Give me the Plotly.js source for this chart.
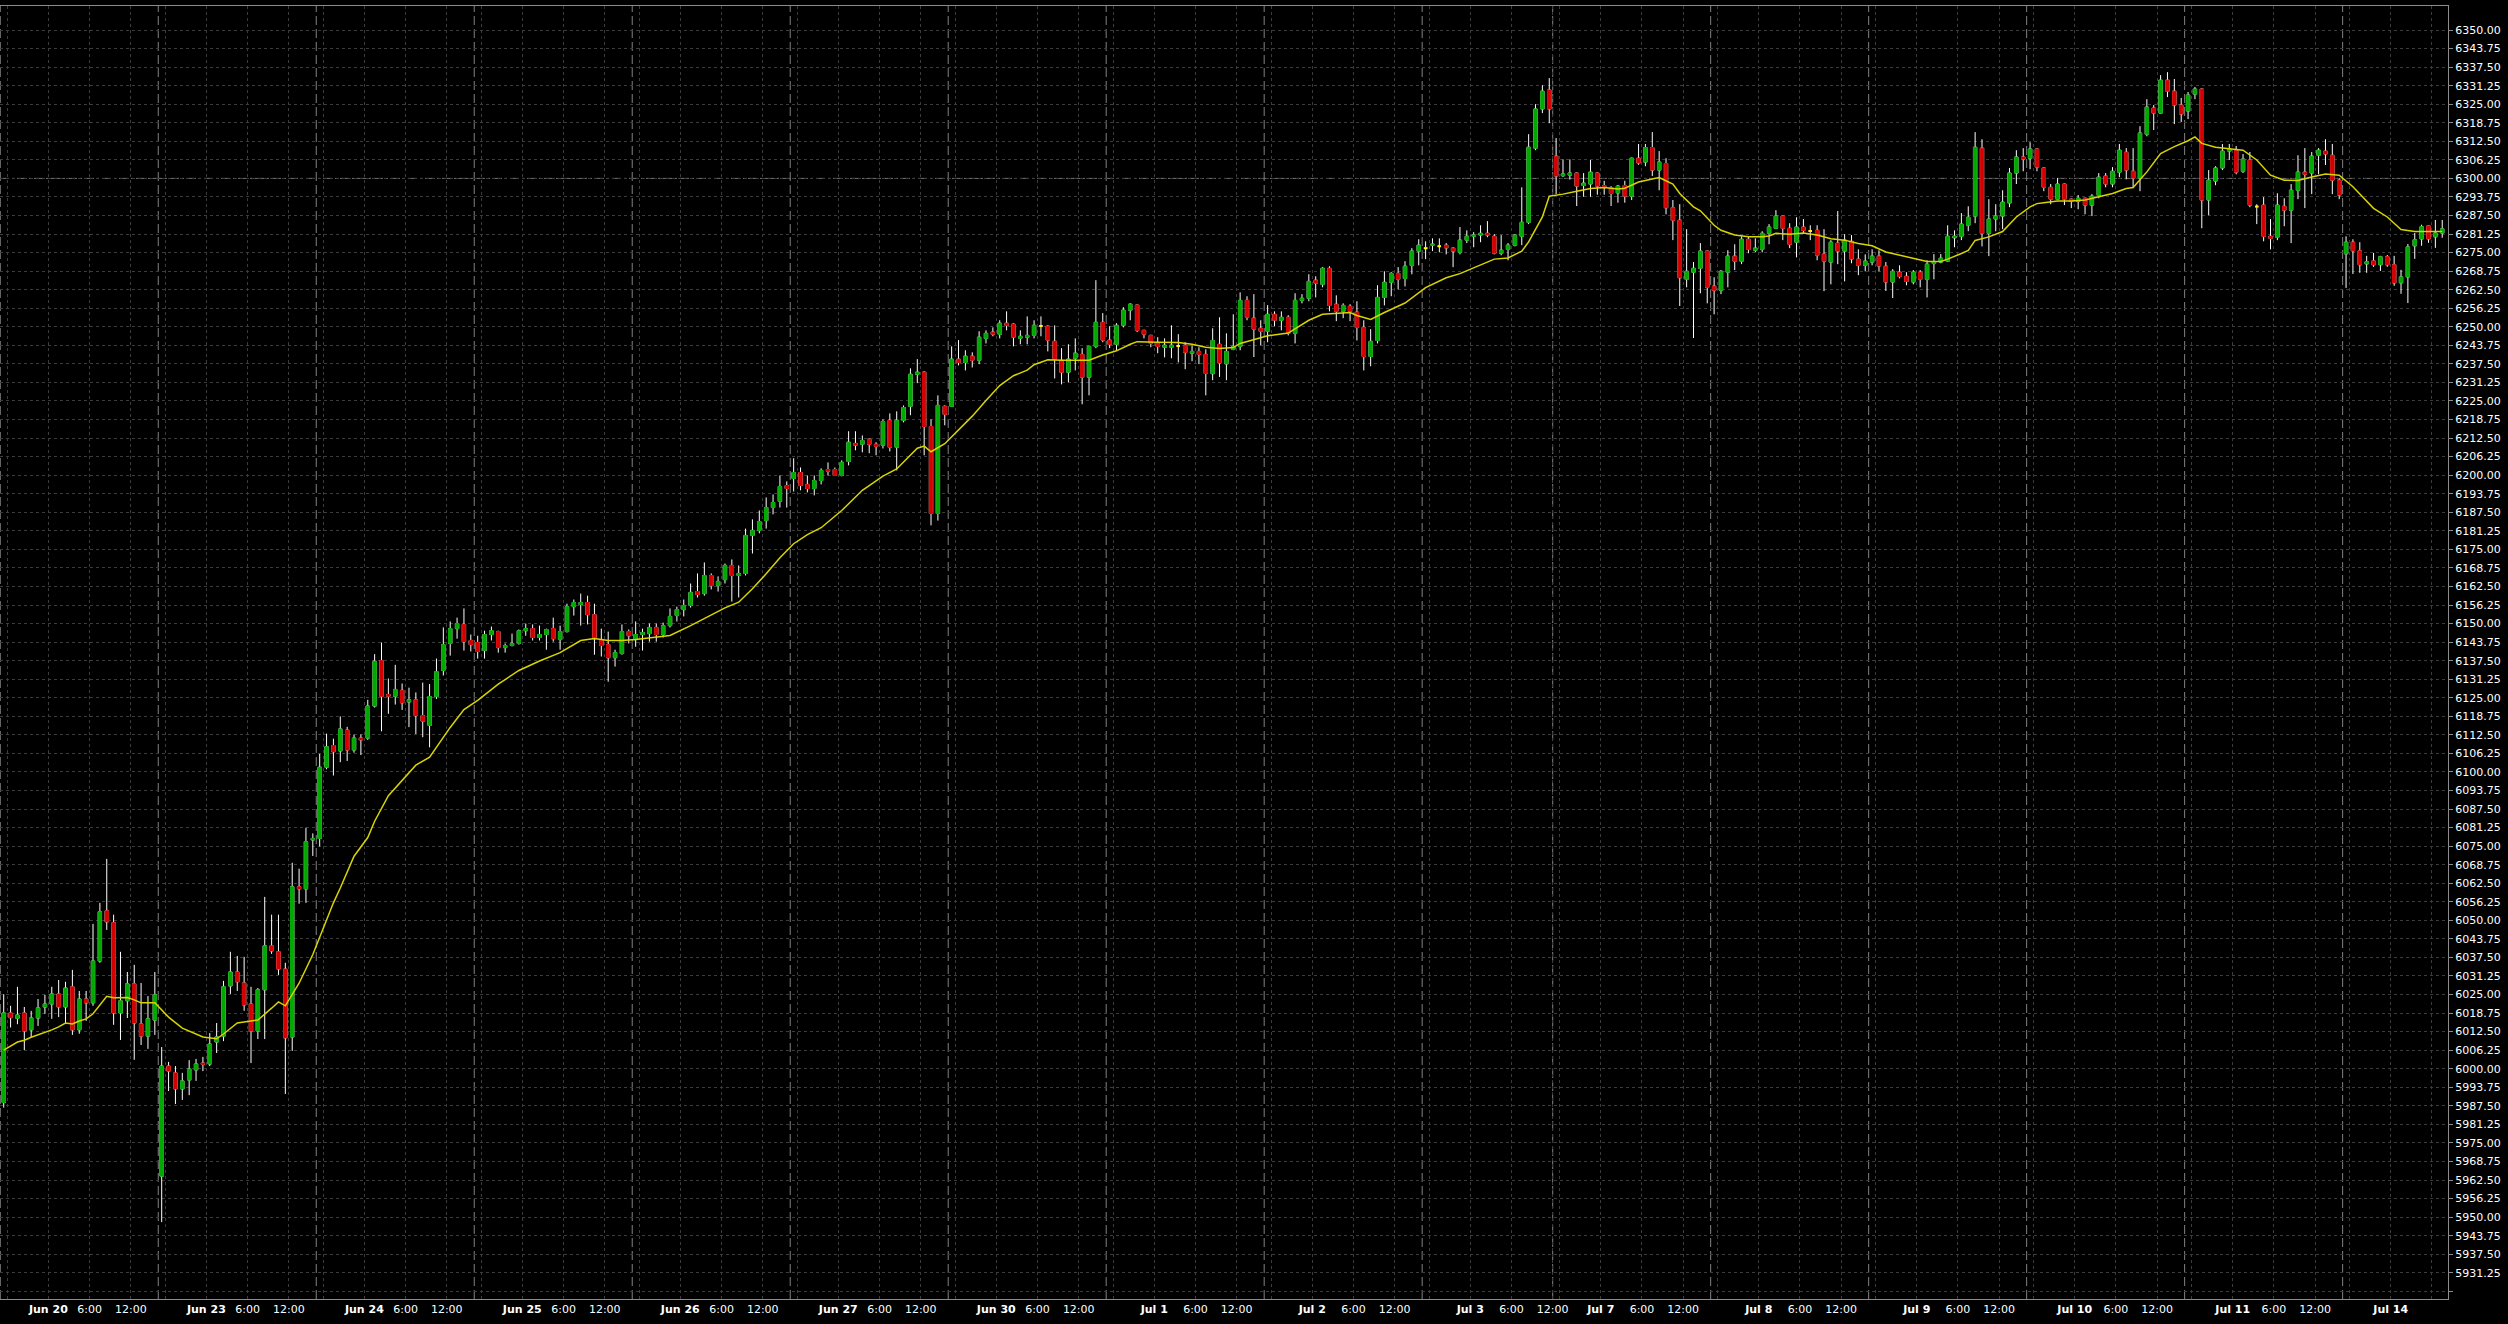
<!DOCTYPE html>
<html><head><meta charset="utf-8">
<script src="https://cdn.plot.ly/plotly-3.0.1.min.js"></script>
<style>html,body{margin:0;padding:0;background:#000;}#chart{width:2508px;height:1324px;}</style>
</head><body><div id="chart"></div>
<script>
// ---- sessions (hourly bars, first bar of each session = 17:00 of previous day) ----
const sessionLabels = ["Jun 20","Jun 23","Jun 24","Jun 25","Jun 26","Jun 27","Jun 30","Jul 1","Jul 2","Jul 3","Jul 7","Jul 8","Jul 9","Jul 10","Jul 11","Jul 14"];
const sessionBars   = [23,23,23,23,23,23,23,23,23,19,23,23,23,23,23,15];

// ---- OHLC values, one row per session ----
const open = [
5988.6,6018.8,6017.0,6018.8,6013.1,6017.1,6020.8,6021.8,6025.2,6020.8,6027.6,6013.1,6023.5,6022.2,6036.3,6053.2,6049.2,6018.8,6022.9,6028.6,6015.1,6011.0,6016.4,
5963.8,6000.9,5998.6,5993.2,5996.2,5999.6,6001.9,6001.6,6009.0,6011.0,6027.9,6032.6,6028.9,6021.8,6012.7,6026.6,6041.4,6039.4,6033.6,6010.7,6061.3,6060.6,6077.1,
6077.6,6101.6,6108.9,6107.1,6114.1,6107.4,6111.4,6111.4,6122.2,6137.5,6126.1,6125.5,6127.5,6123.6,6124.3,6119.0,6115.7,6125.4,6134.2,6143.3,6148.3,6149.7,6144.3,
6143.6,6140.9,6146.3,6147.3,6141.9,6142.6,6143.3,6147.6,6148.3,6145.3,6146.3,6148.3,6144.6,6147.3,6155.7,6156.4,6157.1,6153.0,6144.6,6142.9,6138.5,6139.9,6147.3,
6144.6,6146.3,6146.6,6148.7,6146.3,6149.3,6152.7,6154.7,6156.1,6160.8,6160.1,6166.2,6162.8,6164.8,6169.6,6166.2,6166.9,6179.7,6181.4,6184.7,6189.1,6191.2,6196.5,
6198.9,6200.9,6196.9,6195.5,6198.2,6201.9,6201.9,6199.9,6204.6,6210.7,6210.4,6212.1,6210.4,6210.1,6218.5,6209.4,6218.5,6223.2,6234.0,6234.7,6216.4,6187.1,6223.2,
6223.2,6239.1,6238.0,6240.1,6238.7,6246.1,6248.2,6247.5,6251.2,6250.9,6246.1,6246.5,6247.1,6250.25,6250.2,6245.1,6238.7,6234.7,6239.4,6240.7,6233.0,6243.4,6251.5,
6245.5,6244.1,6250.5,6255.6,6257.3,6248.8,6247.1,6244.4,6243.1,6243.1,6243.5,6243.8,6241.1,6241.7,6240.7,6234.2,6244.1,6237.5,6242.4,6243.4,6258.9,6252.9,6249.5,
6248.5,6254.2,6252.2,6253.2,6247.8,6258.9,6259.6,6265.7,6264.3,6269.7,6257.6,6255.2,6256.9,6254.9,6249.8,6240.0,6245.4,6259.9,6265.0,6268.0,6266.3,6270.7,6275.5,
6276.5,6277.5,6277.1,6277.5,6276.5,6275.1,6279.2,6280.5,6280.9,6281.5,6280.5,6274.8,6276.1,6277.5,6280.5,6285.2,6310.2,6323.4,6329.8,
6307.5,6300.9,6301.1,6301.8,6297.6,6298.1,6301.8,6297.6,6296.9,6295.1,6297.6,6294.0,6306.8,6305.5,6310.4,6302.8,6305.0,6290.1,6285.9,6266.0,6268.4,6269.7,6275.5,
6263.7,6262.3,6268.4,6273.8,6272.1,6279.5,6275.8,6276.1,6281.5,6283.2,6287.3,6283.2,6278.5,6283.6,6282.3,6282.5,6274.5,6271.8,6278.2,6275.5,6278.8,6272.8,6270.7,
6271.8,6273.8,6270.4,6265.1,6268.4,6267.0,6265.1,6268.4,6266.0,6271.3,6271.8,6272.1,6280.0,6280.5,6284.2,6287.3,6310.2,6281.5,6286.3,6287.3,6291.7,6301.8,6307.2,
6306.8,6309.9,6303.5,6297.0,6293.0,6298.1,6293.0,6292.3,6293.3,6291.0,6294.3,6300.8,6298.1,6302.1,6308.8,6302.4,6300.1,6314.9,6323.7,6322.0,6333.1,6329.4,6324.7,
6322.7,6328.4,6330.1,6292.7,6299.1,6303.5,6309.2,6309.5,6302.4,6306.2,6290.5,6291.0,6280.5,6280.2,6290.6,6289.3,6296.0,6302.1,6301.8,6307.8,6309.2,6307.8,6299.4,
6274.6,6278.5,6275.6,6271.2,6272.2,6270.9,6273.6,6270.9,6264.8,6266.8,6277.3,6279.6,6284.0,6280.3,6281.6
];
const high = [
6025.1,6021.2,6027.6,6020.8,6019.5,6023.5,6024.9,6027.6,6029.9,6029.3,6033.3,6026.2,6026.2,6048.8,6055.9,6070.7,6051.9,6039.4,6032.6,6035.0,6028.9,6024.5,6032.6,
6007.3,6002.3,6000.9,5998.6,6002.9,6003.3,6004.0,6012.0,6015.4,6029.6,6039.4,6038.0,6037.7,6027.6,6027.2,6057.9,6051.9,6051.9,6035.7,6069.4,6067.4,6081.2,6079.3,
6106.1,6112.9,6111.2,6118.7,6115.2,6112.6,6112.6,6124.3,6139.7,6143.6,6131.5,6136.1,6129.8,6128.4,6126.8,6130.1,6129.6,6138.2,6148.7,6150.7,6152.0,6155.1,6146.3,
6145.9,6147.6,6149.0,6147.6,6143.3,6146.6,6148.0,6150.0,6149.7,6149.3,6148.3,6152.0,6149.3,6156.7,6158.1,6160.1,6159.4,6156.7,6148.3,6147.3,6141.2,6149.7,6148.0,
6150.7,6148.3,6150.0,6150.0,6150.3,6155.1,6155.7,6158.1,6163.5,6166.9,6170.6,6166.9,6165.9,6170.2,6171.6,6169.6,6182.0,6185.1,6188.1,6192.5,6193.5,6199.9,6197.9,
6205.7,6202.6,6199.9,6199.9,6202.3,6204.3,6202.6,6205.0,6214.8,6214.8,6213.4,6212.4,6211.1,6218.8,6220.8,6221.5,6223.5,6236.0,6239.1,6235.0,6218.8,6226.9,6223.5,
6243.4,6245.5,6242.1,6241.4,6248.5,6248.8,6249.8,6252.2,6255.2,6251.2,6248.8,6253.5,6252.2,6253.5,6250.5,6250.5,6242.8,6244.1,6246.1,6242.8,6243.6,6265.7,6254.6,
6250.2,6251.2,6256.6,6257.9,6257.5,6249.0,6247.3,6246.5,6246.1,6250.5,6247.5,6244.8,6243.8,6243.1,6242.4,6249.5,6253.2,6247.8,6254.2,6261.6,6260.3,6261.0,6252.2,
6257.3,6255.2,6255.2,6253.9,6261.3,6261.0,6267.7,6267.0,6270.1,6270.4,6260.6,6257.9,6257.6,6258.6,6252.2,6249.2,6264.0,6268.7,6268.4,6270.1,6272.1,6276.5,6279.5,
6278.8,6279.8,6279.8,6278.2,6276.8,6283.6,6282.5,6281.9,6284.2,6285.6,6281.2,6280.9,6278.2,6281.2,6297.0,6314.9,6325.0,6331.4,6333.8,
6313.6,6306.4,6306.4,6302.0,6301.8,6306.2,6302.0,6299.2,6297.4,6297.8,6299.2,6307.0,6311.6,6311.6,6315.6,6309.2,6306.8,6292.7,6291.3,6282.9,6271.8,6278.2,6275.7,
6266.7,6269.1,6275.8,6277.8,6280.5,6280.5,6279.8,6282.2,6284.6,6289.3,6287.5,6284.9,6286.9,6286.3,6284.2,6284.2,6282.9,6279.2,6289.0,6281.2,6280.9,6276.1,6274.4,
6276.1,6275.8,6271.8,6269.4,6270.7,6268.4,6269.1,6269.1,6272.4,6274.5,6274.5,6284.2,6282.5,6288.3,6290.6,6315.6,6313.2,6293.0,6291.3,6296.0,6303.5,6309.5,6310.2,
6312.2,6310.1,6303.8,6298.1,6300.1,6298.3,6293.2,6294.4,6293.5,6294.7,6301.8,6301.8,6303.8,6311.6,6310.2,6310.2,6317.6,6326.7,6324.7,6334.8,6335.8,6333.5,6327.1,
6329.1,6330.8,6330.3,6302.8,6304.1,6311.6,6311.6,6310.9,6308.2,6308.9,6291.3,6293.7,6286.3,6295.0,6293.3,6298.1,6307.8,6310.2,6308.9,6310.2,6313.2,6311.6,6300.1,
6280.5,6279.5,6278.5,6273.9,6274.9,6273.9,6274.2,6273.9,6269.2,6277.9,6281.6,6284.4,6284.2,6286.0,6286.0
];
const low = [
5986.9,6013.9,6015.0,6006.3,6010.7,6014.4,6018.5,6016.8,6017.4,6015.4,6011.4,6011.8,6016.1,6021.2,6035.7,6046.8,6014.8,6009.7,6017.1,6003.0,6008.0,6006.7,6011.4,
5948.3,5992.5,5988.1,5989.5,5991.1,5995.9,5999.2,6000.9,6005.3,6009.3,6025.2,6026.2,6019.5,6001.9,6010.0,6010.0,6038.7,6031.6,5991.5,6006.0,6055.6,6055.9,6071.7,
6074.9,6100.9,6098.8,6103.3,6103.7,6106.5,6105.7,6110.8,6121.7,6113.7,6119.6,6122.7,6120.9,6115.1,6112.8,6111.7,6108.3,6124.6,6132.5,6139.2,6144.9,6140.9,6140.6,
6138.2,6138.2,6144.3,6140.2,6140.2,6142.3,6142.9,6145.9,6144.3,6144.3,6141.2,6143.9,6141.2,6147.0,6152.7,6149.3,6149.7,6139.5,6138.9,6130.4,6135.5,6139.5,6143.3,
6142.2,6140.9,6143.9,6143.9,6145.3,6148.7,6150.7,6152.4,6155.4,6158.8,6159.4,6161.5,6160.8,6163.5,6157.4,6158.8,6166.2,6173.6,6180.4,6182.0,6186.8,6189.1,6189.1,
6194.5,6194.9,6194.2,6193.2,6196.9,6199.9,6199.9,6199.6,6203.3,6208.4,6207.7,6207.4,6206.7,6209.0,6208.0,6201.6,6217.8,6220.2,6231.0,6206.7,6183.1,6184.7,6216.8,
6223.0,6237.0,6235.3,6236.3,6237.4,6244.4,6246.8,6246.1,6248.8,6243.4,6244.1,6244.1,6246.1,6246.8,6241.7,6232.6,6230.6,6231.3,6235.3,6223.9,6226.9,6242.8,6244.8,
6242.8,6242.1,6249.8,6252.2,6248.2,6246.1,6243.1,6241.1,6239.7,6239.4,6238.0,6235.7,6238.4,6237.4,6226.9,6232.0,6233.1,6232.0,6242.1,6242.1,6252.2,6239.8,6243.8,
6244.8,6250.2,6248.8,6247.1,6244.4,6257.9,6258.6,6259.9,6263.3,6255.2,6251.9,6252.9,6251.9,6245.4,6235.3,6236.7,6244.4,6257.2,6260.3,6262.6,6263.6,6267.7,6270.7,
6272.8,6275.5,6275.1,6274.4,6270.1,6274.4,6278.2,6276.8,6278.5,6280.2,6274.4,6274.1,6272.4,6277.1,6277.5,6284.6,6309.5,6322.0,6318.6,
6294.7,6300.5,6299.6,6290.7,6293.8,6293.8,6294.5,6294.5,6290.7,6291.8,6291.8,6292.7,6304.6,6304.1,6300.8,6296.0,6287.9,6279.2,6257.0,6263.3,6246.2,6261.3,6257.9,
6254.2,6261.0,6263.3,6269.1,6271.1,6274.8,6275.1,6275.1,6277.8,6282.9,6279.2,6276.5,6273.4,6281.5,6279.2,6272.4,6262.0,6264.3,6271.1,6265.3,6271.4,6267.4,6268.7,
6270.7,6268.7,6262.1,6259.7,6266.3,6264.0,6264.3,6263.3,6259.9,6266.0,6271.4,6271.8,6276.8,6279.2,6282.2,6284.9,6277.1,6273.8,6282.2,6282.9,6290.3,6298.1,6302.4,
6303.1,6302.4,6295.7,6291.3,6292.8,6291.0,6290.0,6289.6,6287.9,6287.3,6293.3,6297.0,6297.0,6300.4,6299.7,6296.7,6295.7,6314.2,6316.3,6321.8,6327.4,6318.3,6319.0,
6320.0,6326.7,6283.2,6287.6,6297.7,6302.8,6306.2,6301.4,6301.8,6290.3,6284.6,6278.8,6276.1,6279.2,6283.9,6278.2,6293.0,6290.0,6294.7,6301.4,6304.5,6294.7,6293.0,
6263.1,6267.8,6268.2,6268.2,6270.2,6268.8,6270.2,6263.8,6261.1,6258.0,6272.9,6277.3,6278.3,6276.6,6280.0
];
const close = [
6018.8,6017.2,6018.1,6012.7,6017.1,6020.5,6021.8,6025.2,6020.8,6027.2,6013.1,6023.5,6022.2,6036.3,6052.9,6049.5,6018.8,6022.9,6028.6,6015.4,6011.0,6016.8,6024.9,
6000.9,5999.2,5993.2,5995.9,5999.9,6001.6,6001.5,6008.3,6010.7,6027.6,6032.6,6029.3,6021.5,6012.7,6026.6,6041.4,6039.7,6033.6,6010.4,6061.3,6060.6,6076.5,6077.6,
6101.6,6108.5,6106.8,6114.5,6107.4,6111.4,6110.8,6122.2,6137.3,6125.5,6125.5,6127.8,6123.3,6124.3,6119.0,6117.1,6125.4,6133.8,6142.9,6148.3,6150.0,6143.9,6142.9,
6140.6,6146.3,6147.6,6141.9,6142.6,6143.3,6147.6,6148.3,6145.3,6146.3,6148.0,6144.9,6147.3,6155.7,6157.1,6157.1,6153.0,6144.9,6142.6,6138.5,6140.2,6147.3,6145.9,
6146.3,6147.0,6148.7,6146.3,6149.3,6152.4,6154.7,6156.1,6160.5,6159.8,6166.2,6162.8,6164.2,6169.6,6166.2,6166.9,6179.7,6181.4,6184.4,6189.1,6190.8,6196.2,6195.5,
6200.9,6196.5,6195.5,6198.2,6201.6,6201.3,6199.9,6204.3,6211.1,6210.1,6211.7,6210.4,6209.7,6218.1,6209.4,6218.5,6222.8,6234.0,6234.7,6216.4,6187.1,6223.5,6220.5,
6239.1,6238.0,6240.1,6238.7,6246.5,6247.8,6247.5,6251.2,6250.5,6246.5,6246.8,6247.1,6250.5,6250.25,6245.5,6239.1,6234.7,6239.1,6241.1,6233.0,6243.4,6251.5,6245.5,
6244.1,6250.5,6255.6,6257.6,6248.8,6247.5,6244.4,6243.4,6243.8,6243.8,6243.5,6241.4,6241.7,6240.7,6234.3,6245.4,6237.8,6241.7,6243.4,6258.9,6253.2,6249.2,6248.5,
6254.2,6252.2,6253.2,6247.8,6258.9,6259.6,6265.3,6264.7,6269.7,6257.2,6255.2,6257.2,6255.2,6249.8,6240.0,6245.1,6259.9,6265.0,6268.0,6266.0,6270.4,6275.5,6277.5,
6276.5,6277.8,6277.1,6276.6,6275.5,6279.2,6280.5,6280.9,6281.5,6280.9,6274.8,6275.8,6277.5,6280.9,6285.2,6310.5,6323.4,6329.4,6323.4,
6300.8,6301.5,6301.8,6297.4,6298.4,6302.1,6297.4,6296.9,6294.9,6297.4,6294.0,6306.8,6305.2,6310.4,6302.8,6305.5,6290.1,6285.9,6266.5,6268.7,6269.7,6275.5,6263.3,
6262.3,6268.7,6273.8,6272.1,6279.5,6276.1,6276.5,6281.5,6283.6,6287.3,6283.2,6277.8,6283.6,6282.5,6282.3,6274.1,6272.1,6278.5,6275.5,6279.2,6272.8,6270.7,6272.1,
6273.8,6270.5,6265.1,6268.7,6267.0,6265.3,6268.4,6266.0,6271.1,6272.0,6273.1,6280.5,6280.5,6284.6,6286.9,6310.5,6281.5,6286.3,6287.3,6292.0,6301.8,6307.2,6306.5,
6309.9,6303.8,6297.0,6293.0,6298.1,6293.0,6292.3,6293.3,6291.0,6294.0,6300.4,6298.1,6302.4,6309.5,6302.8,6300.1,6315.3,6324.0,6322.0,6333.1,6329.4,6324.7,6321.7,
6328.1,6330.1,6292.7,6299.4,6303.5,6309.2,6309.9,6302.1,6306.5,6291.0,6290.5,6280.5,6279.8,6291.0,6289.3,6296.0,6302.1,6301.4,6307.5,6309.5,6308.2,6299.4,6294.4,
6278.5,6275.6,6270.9,6271.9,6270.9,6273.6,6270.9,6264.8,6266.8,6276.9,6279.3,6283.7,6279.6,6281.6,6283.0
];

// ---- moving average ----
const maIndex = [0,2,3,4,7,8,9,10,11,12,13,14,15,16,18,19,20,22,23,24,26,29,31,32,34,36,37,39,40,41,43,45,48,49,51,53,54,56,58,60,62,65,67,69,72,75,78,81,84,86,88,90,92,95,97,100,103,105,107,109,111,113,115,117,119,122,125,128,130,132,133,134,135,137,139,141,143,145,147,149,150,152,154,156,158,160,162,164,165,168,171,173,175,177,179,180,182,184,187,190,192,194,196,197,199,201,204,207,210,212,215,217,219,221,222,224,225,227,229,231,233,235,236,238,240,241,243,244,246,247,249,250,252,254,256,257,258,260,262,264,266,268,270,272,274,276,278,280,282,283,285,286,287,289,291,293,295,296,297,299,301,303,305,307,309,310,312,314,316,318,319,320,322,324,326,328,330,332,334,336,338,340,342,345,347,349,351,355];
const maValue = [6006.3,6009.0,6009.6,6010.6,6013.1,6014.1,6015.4,6015.1,6016.1,6016.8,6018.5,6021.5,6024.4,6023.9,6024.0,6023.2,6022.2,6022.2,6019.8,6017.4,6013.7,6010.7,6010.1,6011.7,6015.4,6016.1,6016.4,6020.4,6022.5,6021.2,6028.8,6038.5,6055.9,6060.9,6071.6,6077.9,6083.4,6092.0,6097.2,6102.3,6105.0,6115.0,6121.0,6124.1,6129.6,6134.2,6137.4,6140.2,6144.3,6145.0,6144.3,6144.3,6144.6,6145.3,6146.0,6149.3,6153.0,6155.3,6157.2,6161.7,6166.8,6172.2,6176.9,6180.0,6182.3,6188.1,6194.9,6199.7,6202.1,6206.7,6209.1,6209.8,6207.9,6210.6,6215.1,6219.9,6225.2,6230.2,6233.5,6235.4,6237.2,6238.9,6238.7,6238.6,6238.7,6240.5,6241.9,6244.1,6245.0,6244.8,6244.7,6244.1,6243.1,6242.7,6243.0,6244.4,6245.7,6247.0,6247.9,6252.2,6254.2,6254.6,6254.8,6253.8,6252.5,6254.8,6258.0,6263.2,6266.5,6267.9,6270.7,6272.8,6273.2,6275.5,6278.6,6287.0,6294.0,6294.7,6295.7,6296.6,6296.9,6296.4,6296.7,6298.8,6299.8,6300.3,6298.1,6294.9,6290.4,6289.1,6284.2,6282.5,6280.9,6280.3,6280.3,6280.6,6281.5,6281.2,6281.6,6280.9,6279.7,6279.2,6278.1,6277.3,6275.2,6274.1,6272.9,6272.0,6272.0,6272.8,6274.7,6275.7,6279.1,6280.3,6282.1,6287.0,6290.4,6291.5,6291.8,6292.4,6292.4,6292.7,6293.8,6294.9,6296.6,6296.9,6302.2,6308.4,6310.7,6312.7,6314.0,6311.8,6310.5,6310.1,6309.5,6306.2,6301.1,6299.4,6299.3,6300.5,6301.5,6301.1,6297.2,6289.9,6287.0,6282.8,6282.1,6282.1];

const levelLine = 6300;             // dash-dot price level
const yTickStart = 5925, yTickEnd = 6350, yTickStep = 6.25;

// ---- colours / styles ----
const GREEN = '#00a800', RED = '#d40000', WICK = '#ffffff', DOJI = '#ffff00', MA = '#d8d400';
const GRID = '#3c3c3c', FRAME = '#8c8c8c', SEP = '#828282';

// ---- build ----
const N = open.length;
const idx = Array.from({length: N}, (_, i) => i);
const starts = []; let acc = 0;
sessionBars.forEach(n => { starts.push(acc); acc += n; });

const tickvals = [], ticktext = [];
const hourOffsets = [1, 7, 13, 19];
starts.forEach((s, d) => {
  const n = sessionBars[d];
  hourOffsets.forEach((k, j) => {
    let pos;
    if (k < n) pos = s + k - 0.5;
    else if (k === n && d < starts.length - 1) pos = s + n - 0.5;
    else return;
    let label = j === 0 ? '' : (j === 1 ? '<b>' + sessionLabels[d] + '</b>' : (j === 2 ? '6:00' : '12:00'));
    if (pos > N - 4) label = '';
    tickvals.push(pos); ticktext.push(label);
  });
});

const yTickVals = [], yTickText = [];
for (let v = yTickStart; v <= yTickEnd + 1e-9; v += yTickStep) {
  yTickVals.push(v);
  yTickText.push(v === yTickStart ? '' : v.toFixed(2));
}

const bodyHigh = open.map((o, i) => Math.max(o, close[i]));
const bodyLow  = open.map((o, i) => Math.min(o, close[i]));
const dojiI = idx.filter(i => open[i] === close[i]);

const traces = [
  { type: 'candlestick', x: idx, open: open, high: high, low: low, close: close,
    increasing: {line: {color: WICK, width: 1}, fillcolor: WICK},
    decreasing: {line: {color: WICK, width: 1}, fillcolor: WICK},
    whiskerwidth: 0, hoverinfo: 'skip', showlegend: false },
  { type: 'candlestick', x: idx, open: open, high: bodyHigh, low: bodyLow, close: close,
    increasing: {line: {color: GREEN, width: 1}, fillcolor: GREEN},
    decreasing: {line: {color: RED, width: 1}, fillcolor: RED},
    whiskerwidth: 0, hoverinfo: 'skip', showlegend: false },
  { type: 'candlestick', x: dojiI, open: dojiI.map(i => open[i]), high: dojiI.map(i => open[i]),
    low: dojiI.map(i => close[i]), close: dojiI.map(i => close[i]),
    increasing: {line: {color: DOJI, width: 2}, fillcolor: DOJI},
    decreasing: {line: {color: DOJI, width: 2}, fillcolor: DOJI},
    whiskerwidth: 0, hoverinfo: 'skip', showlegend: false },
  { type: 'scatter', mode: 'lines', x: maIndex, y: maValue,
    line: {color: MA, width: 1.5}, hoverinfo: 'skip', showlegend: false }
];

const shapes = starts.map(s => ({
  type: 'line', xref: 'x', yref: 'paper', x0: s - 0.5, x1: s - 0.5, y0: 0, y1: 1,
  line: {color: SEP, width: 1, dash: '9px,4px'}, layer: 'below'
}));
shapes.push({ type: 'line', xref: 'paper', yref: 'y', x0: 0, x1: 1, y0: levelLine, y1: levelLine,
  line: {color: '#707070', width: 1, dash: '9px,3px,2px,3px'}, layer: 'below' });

const tickFont = {family: 'DejaVu Sans', size: 11, color: '#ffffff'};
const layout = {
  width: 2508, height: 1324,
  margin: {l: 0, r: 60, t: 6, b: 25, pad: 0},
  paper_bgcolor: '#000000', plot_bgcolor: '#000000',
  showlegend: false, hovermode: false, dragmode: false,
  font: tickFont,
  boxgap: 0.3,
  xaxis: {
    type: 'linear', range: [-0.54, 355.84], rangeslider: {visible: false},
    tickmode: 'array', tickvals: tickvals, ticktext: ticktext, ticks: '', tickfont: tickFont,
    showgrid: true, gridcolor: GRID, gridwidth: 1, griddash: 'dot', zeroline: false,
    showline: true, mirror: true, linecolor: FRAME, linewidth: 1, fixedrange: true
  },
  yaxis: {
    side: 'right', range: [5922.41, 6358.09],
    tickmode: 'array', tickvals: yTickVals, ticktext: yTickText,
    ticks: 'outside', ticklen: 4, tickcolor: FRAME, tickfont: tickFont,
    showgrid: true, gridcolor: GRID, gridwidth: 1, griddash: 'dot', zeroline: false,
    showline: true, mirror: true, linecolor: FRAME, linewidth: 1, fixedrange: true
  },
  shapes: shapes
};
if ([high.length, low.length, close.length].some(l => l !== N) || acc !== N) {
  layout.annotations = [{text: 'LENGTH MISMATCH ' + [N, high.length, low.length, close.length, acc].join(','),
    xref: 'paper', yref: 'paper', x: 0.5, y: 0.5, showarrow: false, font: {size: 30, color: '#f0f'}}];
}
Plotly.newPlot('chart', traces, layout, {staticPlot: true, displayModeBar: false});
</script>
</body></html>
